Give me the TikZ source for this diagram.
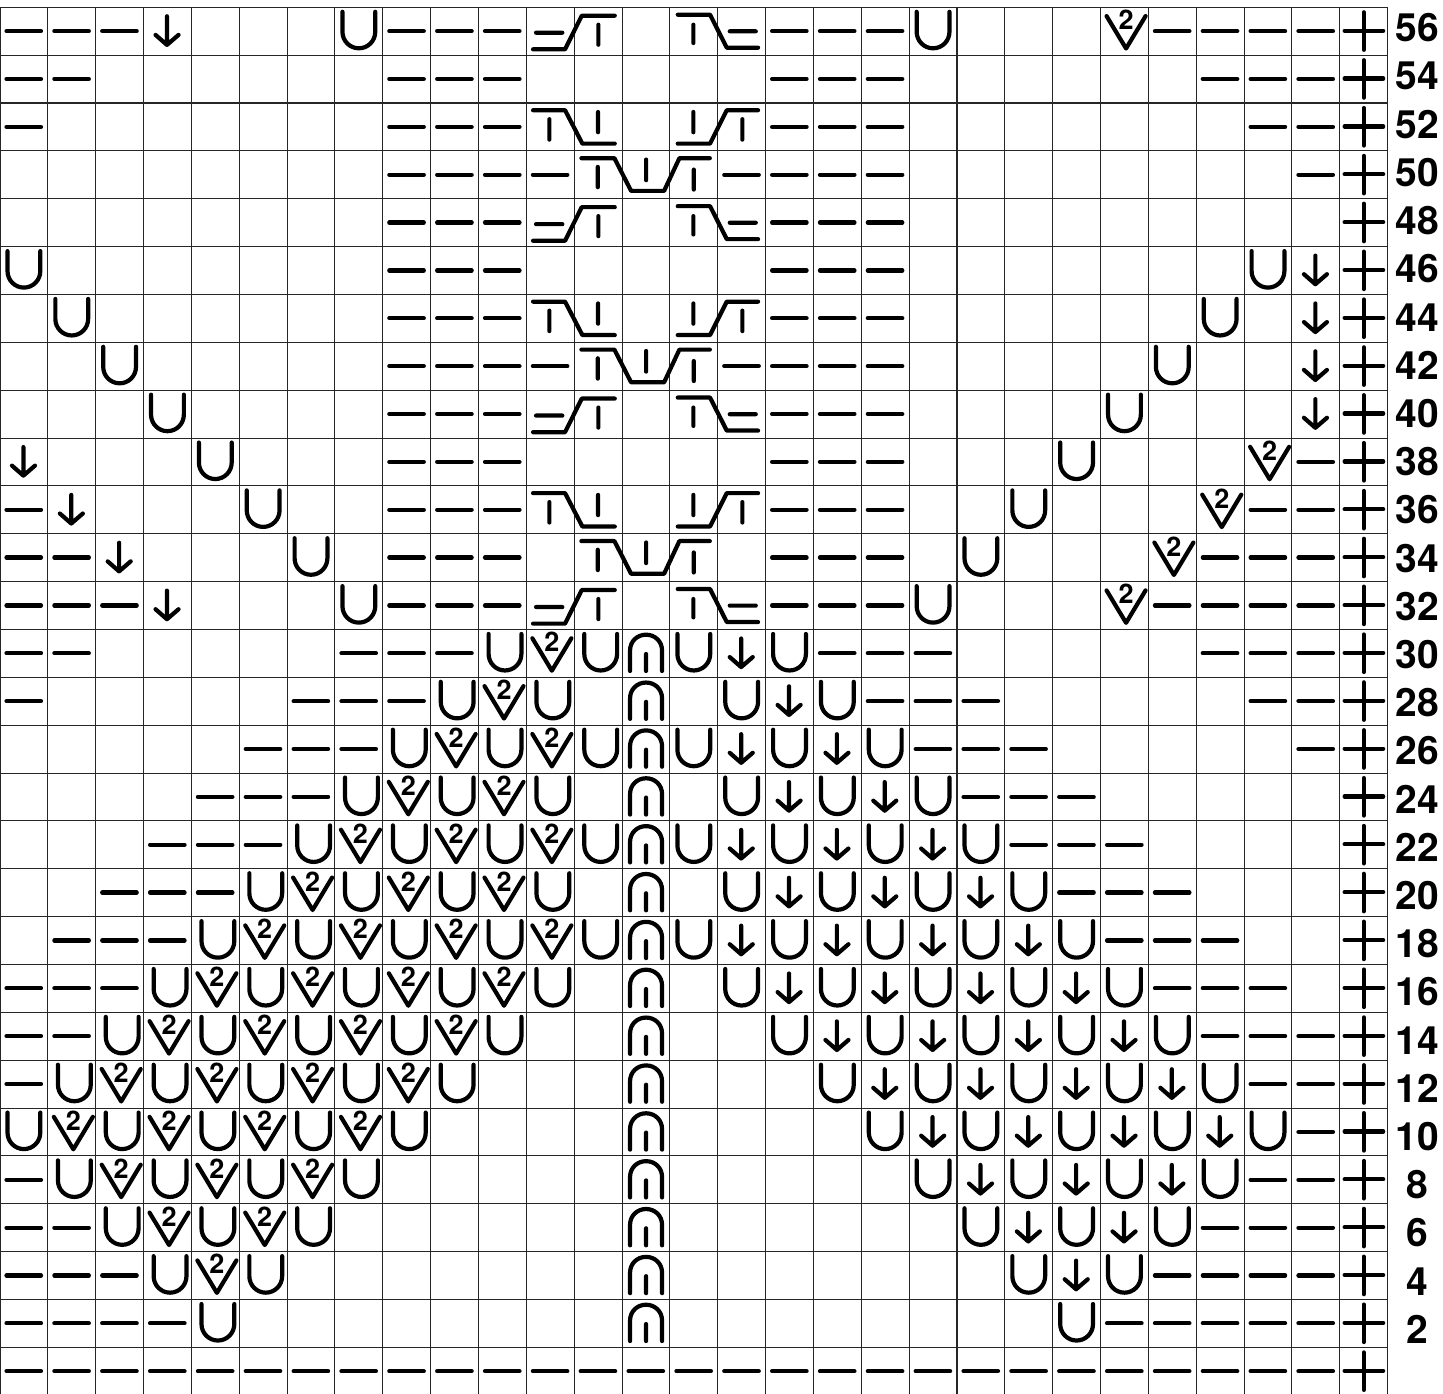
\documentclass[tikz,border=0pt]{standalone}
\usepackage{fontspec}
\setmainfont{TeX Gyre Heros}
\newcount\kcol
\newcount\krow
\tikzset{
  gridline/.style={line width=1.05pt,draw=black!85},
  ink/.style={line width=4.2pt,line cap=round,line join=round,draw=black},
  rowlabel/.style={font=\bfseries\fontsize{39}{39}\selectfont,inner sep=0pt,text=black},
  twolabel/.style={font=\bfseries\fontsize{27}{27}\selectfont,inner sep=0pt,text=black},
  pics/kdash/.style={code={\draw[ink] (6.5,23.8) -- (41,23.8);}},
  pics/karrow/.style={code={\draw[ink] (23.4,9) -- (23.4,37.6) (12,27.6) -- (23.4,37.6) -- (35,27.6);}},
  pics/kloopa/.style={code={\draw[ink] (7.5,4.5) -- (7.5,24.5) .. controls (7.5,33.6) and (14.8,41) .. (23.9,41) .. controls (33,41) and (40.3,33.6) .. (40.3,24.5) -- (40.3,4.5);}},
  pics/kloopb/.style={code={\draw[ink] (10.1,4.5) -- (10.1,24.5) .. controls (10.1,33.6) and (17.4,41) .. (26.5,41) .. controls (35.6,41) and (42.9,33.6) .. (42.9,24.5) -- (42.9,4.5);}},
  pics/kvee/.style={code={\draw[ink] (6,8.8) -- (25.5,41.2) -- (45,8.8); \node[twolabel] (-two) at (25.5,12.5) {2};}},
  pics/kcap/.style={code={\draw[ink] (8,41.5) -- (8,21) .. controls (8,12) and (15,5.2) .. (24,5.2) .. controls (33,5.2) and (40,12) .. (40,21) -- (40,41.5) (24,24.5) -- (24,41.5);}},
  pics/kplus/.style={code={\draw[ink] (4.8,23.4) -- (43.4,23.4) (23.9,5) -- (23.9,42.5);}},
  pics/kcablea/.style={code={\draw[ink] (9.7,25.4) -- (36,25.4) (6.7,42) -- (38.7,42) -- (55.4,8.4) -- (88.4,8.4) (72,17.4) -- (72,37.4)
      (151.4,7.4) -- (183.7,7.4) -- (200.4,40.4) -- (231.7,40.4) (203.4,24) -- (229.4,24) (167,17.4) -- (167,35.7);}},
  pics/kcableb/.style={code={\draw[ink] (6.7,7.2) -- (38.7,7.2) -- (56,40.6) -- (88.4,40.6) (23,16.2) -- (23,36.6) (71.7,9) -- (71.7,29.2)
      (151.4,40.6) -- (183.7,40.6) -- (200.4,7.2) -- (231.7,7.2) (167,9) -- (167,29.2) (216,16.2) -- (216,36.6);}},
  pics/kcablec/.style={code={\draw[ink] (7.2,7.3) -- (40.2,7.3) -- (56.9,40) -- (89.9,40) -- (105.2,7.3) -- (135.6,7.3) (23.6,16) -- (23.6,36.3) (71.9,8.7) -- (71.9,29.3) (119.6,18.7) -- (119.6,38.7);}},
}
\def\kput#1{\pic (c\the\krow x\the\kcol) at ({(\the\kcol-1)*47.85},{\the\krow*47.86+7.3}) {#1};}
\expandafter\def\csname ks.\endcsname{}
\expandafter\def\csname ksd\endcsname{\kput{kdash}}
\expandafter\def\csname ksa\endcsname{\kput{karrow}}
\expandafter\def\csname ksu\endcsname{\kput{kloopa}}
\expandafter\def\csname ksw\endcsname{\kput{kloopb}}
\expandafter\def\csname ksv\endcsname{\kput{kvee}}
\expandafter\def\csname ksn\endcsname{\kput{kcap}}
\expandafter\def\csname ksp\endcsname{\kput{kplus}}
\expandafter\def\csname ksA\endcsname{\kput{kcablea}}
\expandafter\def\csname ksB\endcsname{\kput{kcableb}}
\expandafter\def\csname ksC\endcsname{\kput{kcablec}}
\def\KStep#1{\ifx#1\relax\else\global\advance\kcol by 1 \csname ks#1\endcsname\expandafter\KStep\fi}
\def\KRow#1{\global\kcol=0 \KStep#1\relax\global\advance\krow by 1 }
\begin{document}
\begin{tikzpicture}[x=1pt,y=-1pt]
\useasboundingbox (0,0) rectangle (1443,1394);
\clip (0,0) rectangle (1443,1394);
\foreach \i in {0,...,29} \draw[gridline] ({\i*47.85},7.3) -- ({\i*47.85},1394);
\foreach \i in {0,...,28} \draw[gridline] (0,{\i*47.86+7.3}) -- (1387.65,{\i*47.86+7.3});
\global\krow=0
\KRow{ddda...udddA....dddu...vddddp}
\KRow{dd......ddd.....ddd......dddp}
\KRow{d.......dddB....ddd.......ddp}
\KRow{........ddddC..dddd........dp}
\KRow{........dddA....ddd.........p}
\KRow{u.......ddd.....ddd.......uap}
\KRow{.u......dddB....ddd......u.ap}
\KRow{..u.....ddddC..dddd.....u..ap}
\KRow{...u....dddA....ddd....u...ap}
\KRow{a...u...ddd.....ddd...u...vdp}
\KRow{da...u..dddB....ddd..u...vddp}
\KRow{dda...u.ddd.C...ddd.u...vdddp}
\KRow{ddda...udddA....dddu...vddddp}
\KRow{dd.....dddwvwnuauddd.....dddp}
\KRow{d.....dddwvw.n.uauddd.....ddp}
\KRow{.....dddwvwvwnuauauddd.....dp}
\KRow{....dddwvwvw.n.uauauddd.....p}
\KRow{...dddwvwvwvwnuauauauddd....p}
\KRow{..dddwvwvwvw.n.uauauauddd...p}
\KRow{.dddwvwvwvwvwnuauauauauddd..p}
\KRow{dddwvwvwvwvw.n.uauauauauddd.p}
\KRow{ddwvwvwvwvw..n..uauauauaudddp}
\KRow{dwvwvwvwvw...n...uauauauauddp}
\KRow{uvwvwvwvw....n....uauauauaudp}
\KRow{dwvwvwvw.....n.....uauauauddp}
\KRow{ddwvwvw......n......uauaudddp}
\KRow{dddwvw.......n.......uauddddp}
\KRow{ddddw........n........udddddp}
\KRow{ddddddddddddddddddddddddddddp}
\foreach \n [count=\j from 0] in {56,54,...,2}
  \node[rowlabel] (lab\n) at (1417,{28+48.2*\j}) {\n};
\end{tikzpicture}
\end{document}
